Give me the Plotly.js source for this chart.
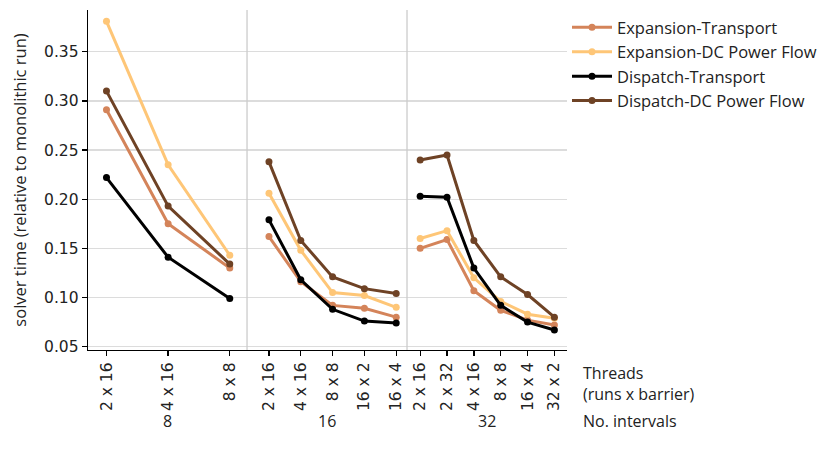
<!DOCTYPE html>
<html>
<head>
<meta charset="utf-8">
<script src="https://cdn.plot.ly/plotly-3.0.1.min.js"></script>
<style>html,body{margin:0;padding:0;background:#fff;}#chart{width:832px;height:458px;}</style>
</head>
<body>
<div id="chart"></div>
<script>
// Tick labels (threads: runs x barrier) per number of intervals
var intervals = ['8', '16', '32'];
var threads8 = ['2 x 16', '4 x 16', '8 x 8'];
var threads16 = ['2 x 16', '4 x 16', '8 x 8', '16 x 2', '16 x 4'];
var threads32 = ['2 x 16', '2 x 32', '4 x 16', '8 x 8', '16 x 4', '32 x 2'];

var seriesNames = ['Expansion-Transport', 'Expansion-DC Power Flow', 'Dispatch-Transport', 'Dispatch-DC Power Flow'];

// 8 intervals
var expTransport8 = [0.291, 0.175, 0.130];
var expDC8 = [0.381, 0.235, 0.143];
var dispTransport8 = [0.222, 0.141, 0.099];
var dispDC8 = [0.310, 0.193, 0.134];

// 16 intervals
var expTransport16 = [0.162, 0.116, 0.092, 0.089, 0.080];
var expDC16 = [0.206, 0.148, 0.105, 0.102, 0.090];
var dispTransport16 = [0.179, 0.118, 0.088, 0.076, 0.074];
var dispDC16 = [0.238, 0.158, 0.121, 0.109, 0.104];

// 32 intervals
var expTransport32 = [0.150, 0.159, 0.107, 0.087, 0.077, 0.072];
var expDC32 = [0.160, 0.168, 0.120, 0.096, 0.083, 0.079];
var dispTransport32 = [0.203, 0.202, 0.130, 0.092, 0.075, 0.067];
var dispDC32 = [0.240, 0.245, 0.158, 0.121, 0.103, 0.080];

var colors = ['#d4845a', '#fec677', '#000000', '#6e4225'];

var groups = [
  {axis: 'x', cats: threads8, vals: [expTransport8, expDC8, dispTransport8, dispDC8]},
  {axis: 'x2', cats: threads16, vals: [expTransport16, expDC16, dispTransport16, dispDC16]},
  {axis: 'x3', cats: threads32, vals: [expTransport32, expDC32, dispTransport32, dispDC32]}
];

var traces = [];
for (var s = 0; s < seriesNames.length; s++) {
  for (var g = 0; g < groups.length; g++) {
    traces.push({
      type: 'scatter', mode: 'lines+markers',
      x: groups[g].cats, y: groups[g].vals[s],
      xaxis: groups[g].axis, yaxis: 'y',
      name: seriesNames[s], legendgroup: seriesNames[s], showlegend: g === 0,
      line: {color: colors[s], width: 3},
      marker: {color: colors[s], size: 7},
      hoverinfo: 'x+y'
    });
  }
}

var tickFont = {family: 'DejaVu Sans', size: 15.5, color: '#222'};
var txtFont = {family: 'Open Sans', size: 16, color: '#222'};

function xax(domain, range) {
  return {
    domain: domain, range: range, type: 'category', anchor: 'y',
    showgrid: false, zeroline: false, showline: true, linecolor: '#000', linewidth: 1.3,
    ticks: 'outside', ticklen: 5, tickcolor: '#000', tickwidth: 1.3,
    tickangle: -90, tickfont: tickFont, fixedrange: true
  };
}

var layout = {
  width: 832, height: 458,
  margin: {l: 88, r: 262, t: 10, b: 108},
  paper_bgcolor: '#fff', plot_bgcolor: '#fff',
  showlegend: true,
  legend: {x: 1.0, xanchor: 'left', y: 1.0, yanchor: 'top', font: {family: 'Open Sans', size: 16.5, color: '#222'},
           bgcolor: 'rgba(0,0,0,0)', tracegroupgap: 0, itemwidth: 40},
  xaxis: xax([0, 0.332], [-0.3, 2.28]),
  xaxis2: xax([0.332, 0.666], [-0.69, 4.34]),
  xaxis3: xax([0.666, 1], [-0.49, 5.47]),
  yaxis: {
    range: [0.0466, 0.3925], anchor: 'x',
    tickvals: [0.05, 0.10, 0.15, 0.20, 0.25, 0.30, 0.35], tickformat: '.2f',
    showgrid: true, gridcolor: '#dcdcdc', gridwidth: 1.3, zeroline: false,
    showline: true, linecolor: '#000', linewidth: 1.3,
    ticks: 'outside', ticklen: 5, tickcolor: '#000', tickwidth: 1.3,
    tickfont: tickFont, fixedrange: true,
    title: {text: 'solver time (relative to monolithic run)', font: {family: 'Open Sans', size: 16.5, color: '#222'}, standoff: 13}
  },
  shapes: [
    {type: 'line', xref: 'paper', yref: 'paper', x0: 0.332, x1: 0.332, y0: 0, y1: 1, line: {color: '#cccccc', width: 1.3}},
    {type: 'line', xref: 'paper', yref: 'paper', x0: 0.666, x1: 0.666, y0: 0, y1: 1, line: {color: '#cccccc', width: 1.3}}
  ],
  annotations: [
    {xref: 'x domain', yref: 'paper', x: 0.5, y: -0.209, yanchor: 'middle', text: intervals[0], showarrow: false, font: txtFont},
    {xref: 'x2 domain', yref: 'paper', x: 0.5, y: -0.209, yanchor: 'middle', text: intervals[1], showarrow: false, font: txtFont},
    {xref: 'x3 domain', yref: 'paper', x: 0.5, y: -0.209, yanchor: 'middle', text: intervals[2], showarrow: false, font: txtFont},
    {xref: 'paper', yref: 'paper', x: 1.03, xanchor: 'left', y: -0.209, yanchor: 'middle', text: 'No. intervals', showarrow: false, font: txtFont},
    {xref: 'paper', yref: 'paper', x: 1.03, xanchor: 'left', y: -0.03, yanchor: 'top', align: 'left', text: 'Threads<br>(runs x barrier)', showarrow: false, font: txtFont}
  ]
};

Plotly.newPlot('chart', traces, layout, {displayModeBar: false, staticPlot: true});
</script>
</body>
</html>
